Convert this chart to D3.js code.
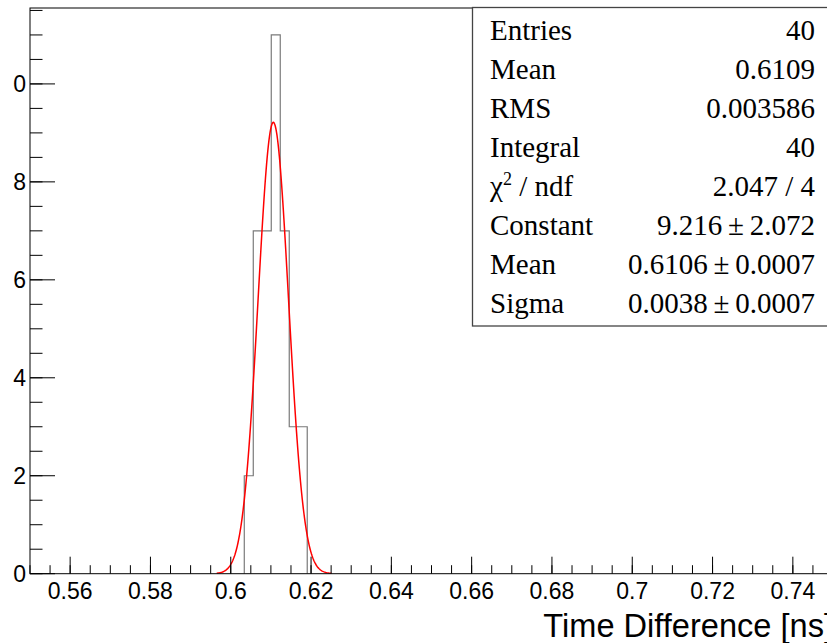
<!DOCTYPE html>
<html>
<head>
<meta charset="utf-8">
<script src="https://cdn.jsdelivr.net/npm/d3@7"></script>
<style>
  html, body { margin: 0; padding: 0; background: #fff; }
  svg { display: block; }
</style>
</head>
<body>
<svg id="chart" width="827" height="643"></svg>
<script>
// ---- data ----
const binLeftEdges = [0.60337, 0.60561, 0.60785, 0.61009, 0.61233, 0.61457, 0.61681];
const binWidth = 0.00224;
const binCounts = [2, 7, 7, 11, 7, 3, 3];
const xTickValues = [0.56, 0.58, 0.60, 0.62, 0.64, 0.66, 0.68, 0.70, 0.72, 0.74];
const xTickLabels = ["0.56", "0.58", "0.6", "0.62", "0.64", "0.66", "0.68", "0.7", "0.72", "0.74"];
const yTickValues = [0, 2, 4, 6, 8, 10];
const yTickLabels = ["0", "2", "4", "6", "8", "10"];
const fitParams = [9.216, 0.6106, 0.0038];   // constant, mean, sigma
const fitRange = [0.5965, 0.6251];
const statNames = ["Entries", "Mean", "RMS", "Integral", "χ² / ndf", "Constant", "Mean", "Sigma"];
const statValues = ["40", "0.6109", "0.003586", "40", "2.047 / 4", "9.216\u2009±\u20092.072", "0.6106\u2009±\u20090.0007", "0.0038\u2009±\u20090.0007"];
const xTitle = "Time Difference [ns]";

// ---- layout ----
const W = 827, H = 643;
const frame = { left: 30, right: 833, top: 8, bottom: 573.7 };
const svg = d3.select("#chart");

const x = d3.scaleLinear().domain([0.55, 0.75]).range([frame.left, frame.right]);
const y = d3.scaleLinear().domain([0, 11.55]).range([frame.bottom, frame.top]);

const sans = "'Liberation Sans', Arial, Helvetica, sans-serif";
const serif = "'Liberation Serif', 'Times New Roman', serif";

svg.append("clipPath").attr("id", "plotclip").append("rect")
  .attr("x", frame.left).attr("y", frame.top)
  .attr("width", frame.right - frame.left).attr("height", frame.bottom - frame.top);
svg.append("clipPath").attr("id", "ylabclip").append("rect")
  .attr("x", 13).attr("y", 0).attr("width", 40).attr("height", H);

// ---- histogram outline ----
const stepPts = [];
binCounts.forEach((c, i) => {
  const x0 = binLeftEdges[i], x1 = binLeftEdges[i] + binWidth;
  if (i === 0) stepPts.push([x0, 0]);
  stepPts.push([x0, c]);
  stepPts.push([x1, c]);
});
stepPts.push([binLeftEdges[binLeftEdges.length - 1] + binWidth, 0]);
const line = d3.line().x(d => x(d[0])).y(d => y(d[1]));
svg.append("path")
  .attr("d", line(stepPts))
  .attr("fill", "none")
  .attr("stroke", "#7a7a7a")
  .attr("stroke-width", 1.2)
  .attr("clip-path", "url(#plotclip)");

// ---- Gaussian fit curve (from fit parameters) ----
const gaus = v => fitParams[0] * Math.exp(-0.5 * Math.pow((v - fitParams[1]) / fitParams[2], 2));
const fitX = d3.range(fitRange[0], fitRange[1] + 1e-9, (fitRange[1] - fitRange[0]) / 200);
svg.append("path")
  .attr("d", d3.line().x(v => x(v)).y(v => y(gaus(v)))(fitX))
  .attr("fill", "none")
  .attr("stroke", "#ff0000")
  .attr("stroke-width", 1.5)
  .attr("clip-path", "url(#plotclip)");

// ---- frame ----
svg.append("rect")
  .attr("x", frame.left).attr("y", frame.top)
  .attr("width", frame.right - frame.left).attr("height", frame.bottom - frame.top)
  .attr("fill", "none").attr("stroke", "#000").attr("stroke-width", 1);

// ---- x axis ticks (inward) ----
const xMinor = d3.range(0.55, 0.7501, 0.005);
const gx = svg.append("g");
gx.selectAll("line.minor").data(xMinor).join("line")
  .attr("x1", d => x(d)).attr("x2", d => x(d))
  .attr("y1", frame.bottom).attr("y2", frame.bottom - 8.5)
  .attr("stroke", "#000").attr("stroke-width", 1);
gx.selectAll("line.major").data(xTickValues).join("line")
  .attr("x1", d => x(d)).attr("x2", d => x(d))
  .attr("y1", frame.bottom).attr("y2", frame.bottom - 17)
  .attr("stroke", "#000").attr("stroke-width", 1);
gx.selectAll("text").data(xTickValues).join("text")
  .attr("x", d => x(d)).attr("y", 598.5)
  .attr("text-anchor", "middle")
  .attr("font-family", sans).attr("font-size", 23)
  .text((d, i) => xTickLabels[i]);

// ---- y axis ticks (inward) ----
const yMinor = d3.range(0, 11.51, 0.5);
const gy = svg.append("g");
gy.selectAll("line.minor").data(yMinor).join("line")
  .attr("x1", frame.left).attr("x2", frame.left + 12.5)
  .attr("y1", d => y(d)).attr("y2", d => y(d))
  .attr("stroke", "#000").attr("stroke-width", 1);
gy.selectAll("line.major").data(yTickValues).join("line")
  .attr("x1", frame.left).attr("x2", frame.left + 25)
  .attr("y1", d => y(d)).attr("y2", d => y(d))
  .attr("stroke", "#000").attr("stroke-width", 1);
gy.append("g").attr("clip-path", "url(#ylabclip)")
  .selectAll("text").data(yTickValues).join("text")
  .attr("x", 26).attr("y", d => y(d) + 8.5)
  .attr("text-anchor", "end")
  .attr("font-family", sans).attr("font-size", 23)
  .text((d, i) => yTickLabels[i]);

// ---- x title ----
svg.append("text")
  .attr("x", frame.right).attr("y", 637)
  .attr("text-anchor", "end")
  .attr("font-family", sans).attr("font-size", 32.6)
  .text(xTitle);

// ---- stats box ----
const box = { left: 472.5, top: 7.5, right: 838, bottom: 326 };
svg.append("rect")
  .attr("x", box.left).attr("y", box.top)
  .attr("width", box.right - box.left).attr("height", box.bottom - box.top)
  .attr("fill", "#fff").attr("stroke", "#444").attr("stroke-width", 1.3);
const rowH = 39.1;
const gs = svg.append("g").attr("font-family", serif).attr("font-size", 29).attr("fill", "#000");
statNames.forEach((nm, i) => {
  const by = 39.5 + rowH * i;
  const t = gs.append("text").attr("x", 490).attr("y", by);
  if (nm.startsWith("χ")) {
    t.append("tspan").text("χ");
    t.append("tspan").attr("font-size", 18).attr("dy", -11).text("2");
    t.append("tspan").attr("dy", 11).text(" / ndf");
  } else {
    t.text(nm);
  }
  gs.append("text").attr("x", 815).attr("y", by).attr("text-anchor", "end").text(statValues[i]);
});
</script>
</body>
</html>
